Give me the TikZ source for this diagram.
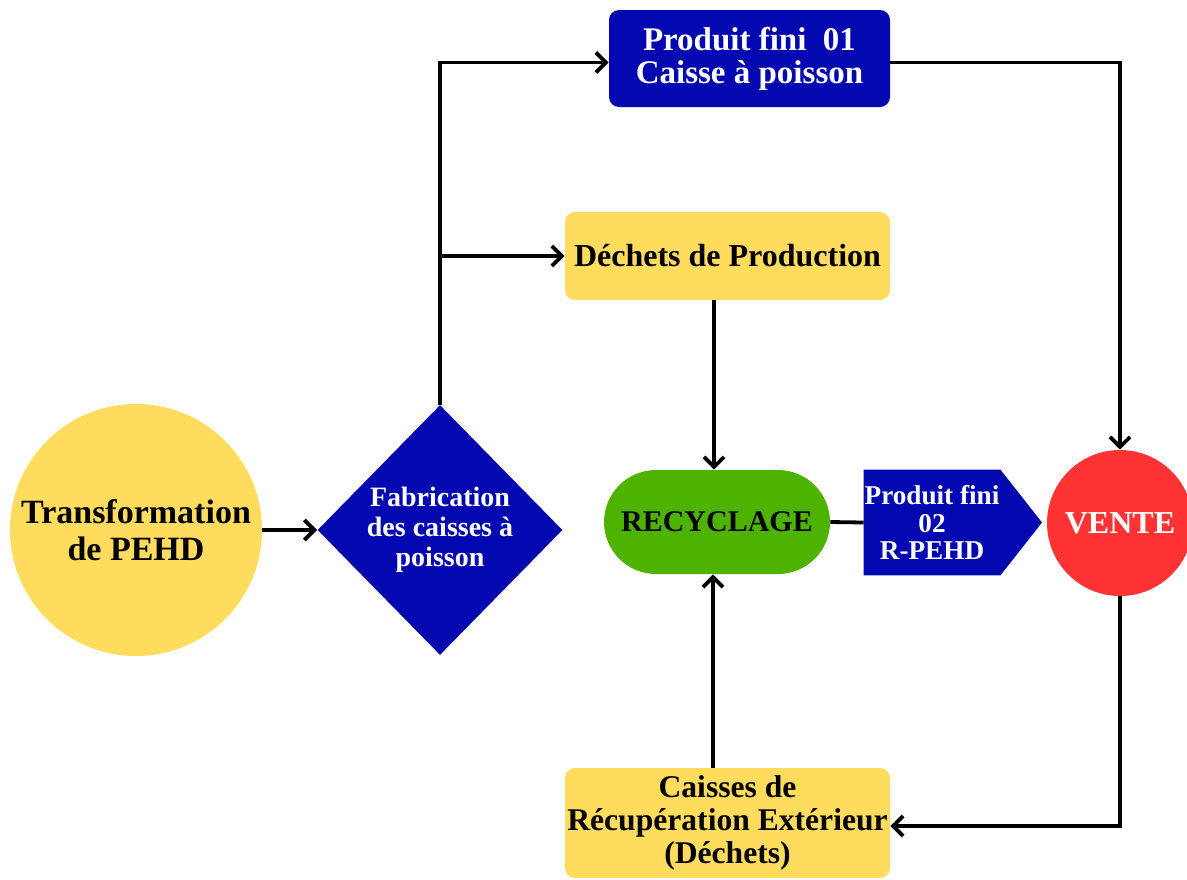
\documentclass[tikz,border=0pt]{standalone}
\usepackage{fontspec}
\setmainfont{Liberation Serif}
\usetikzlibrary{arrows.meta,shapes.geometric,backgrounds}
\definecolor{yel}{RGB}{255,219,94}
\definecolor{blu}{RGB}{3,8,176}
\definecolor{grn}{RGB}{78,178,0}
\definecolor{rd}{RGB}{255,51,51}
\tikzset{
  box/.style={rounded corners=5pt, inner sep=0pt, align=center, font=\bfseries},
  arr/.style={line width=1.9pt, -{Straight Barb[length=5pt,width=10pt,line width=1.9pt]}},
  ln/.style={line width=1.9pt},
}
\newcommand{\fs}[2]{\fontsize{#1}{#2}\selectfont\bfseries}
\begin{document}
\begin{tikzpicture}[x=0.5pt,y=-0.5pt]
\useasboundingbox (0,0) rectangle (1187,879);
% nodes
\node[circle, fill=yel, minimum size=126pt, inner sep=0pt, align=center, font=\fs{17}{18.5}] (tr) at (136,530) {Transformation\\de PEHD};
\node[diamond, fill=blu, text=white, minimum width=122.5pt, minimum height=125pt, inner sep=0pt, align=center, font=\fs{14}{15}] (dia) at (440,530) {Fabrication\\des caisses à\\poisson};
\node[box, fill=blu, text=white, minimum width=140.5pt, minimum height=48.5pt, font=\fs{16.5}{16.5}] (top) at (749.5,58.5) {Produit fini\ \ 01\\Caisse à poisson};
\node[box, fill=yel, minimum width=162.5pt, minimum height=44pt, font=\fs{16}{16.5}] (dech) at (727.5,256) {Déchets de Production};
\node[box, rounded corners=26pt, fill=grn, minimum width=113pt, minimum height=52pt, font=\fs{15}{16}] (recyc) at (717,522) {RECYCLAGE};
\node[inner sep=0pt, text=white, minimum width=68pt, minimum height=52.5pt, align=center, font=\fs{13.6}{13.75}] (pf) at (932,522.5) {Produit fini\\02\\R-PEHD};
\coordinate (tip) at (1042,522.5);
\begin{scope}[on background layer]
\fill[blu] (pf.north west) -- (pf.north east) -- (tip) -- (pf.south east) -- (pf.south west) -- cycle;
\end{scope}
\node[circle, fill=rd, text=white, minimum size=73pt, inner sep=0pt, font=\fs{16}{16}] (vente) at (1120,523) {VENTE};
\node[box, fill=yel, minimum width=162.5pt, minimum height=55pt, font=\fs{15.8}{16.5}] (bot) at (727.5,823) {Caisses de\\Récupération Extérieur\\(Déchets)};
% connectors
\draw[arr] (tr.east) -- (dia.west);
\draw[arr] (dia.north) |- ([yshift=-2pt]top.west);
\draw[arr] (dia.north |- dech.west) -- (dech.west);
\draw[arr] ([yshift=-2pt]top.east) -| (vente.north);
\draw[arr] ([xshift=-1.5pt]recyc.north |- dech.south) -- ([xshift=-1.5pt]recyc.north);
\draw[ln] (recyc.east) -- (pf.west);
\draw[arr] (vente.south) |- ([yshift=-1.5pt]bot.east);
\draw[arr] ([xshift=-2pt]recyc.south |- bot.north) -- ([xshift=-2pt]recyc.south);
\end{tikzpicture}
\end{document}
